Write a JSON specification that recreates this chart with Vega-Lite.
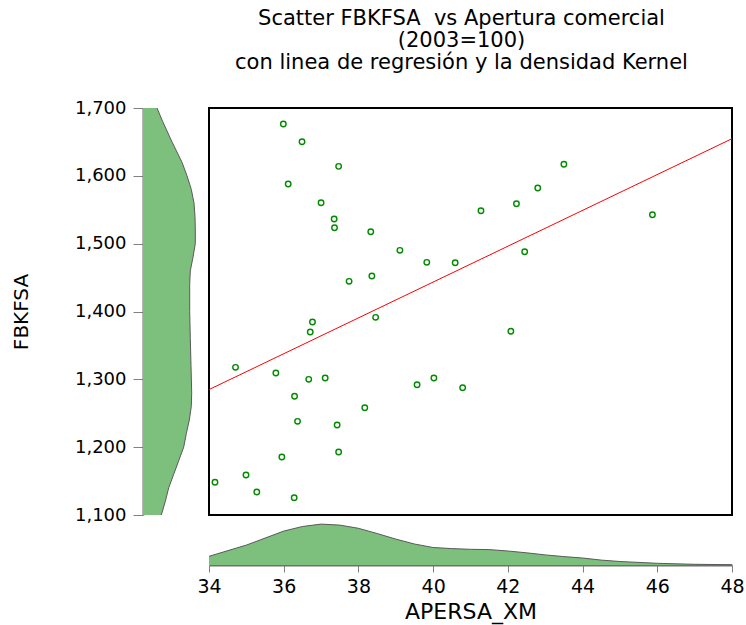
{
  "$schema": "https://vega.github.io/schema/vega-lite/v6.json",
  "padding": {"left": 11, "top": 7, "right": 0, "bottom": 8},
  "config": {
    "font": "DejaVu Sans",
    "view": {"stroke": null},
    "axis": {"labelColor": "black", "titleColor": "black", "titleFontWeight": "normal", "grid": false}
  },
  "datasets": {
    "points": [
      {"x": 35.99, "y": 1676.4}, {"x": 36.49, "y": 1650.3}, {"x": 37.47, "y": 1614}, {"x": 36.12, "y": 1588},
      {"x": 37.0, "y": 1560.4}, {"x": 37.35, "y": 1536.4}, {"x": 37.36, "y": 1523.5}, {"x": 38.33, "y": 1517.6},
      {"x": 39.11, "y": 1490.2}, {"x": 39.83, "y": 1472.5}, {"x": 40.59, "y": 1471.9}, {"x": 37.75, "y": 1444.5},
      {"x": 38.36, "y": 1452.3}, {"x": 36.77, "y": 1384.5}, {"x": 36.71, "y": 1369.8}, {"x": 38.46, "y": 1391.4},
      {"x": 34.71, "y": 1317.7}, {"x": 35.79, "y": 1309.3}, {"x": 36.67, "y": 1300}, {"x": 37.11, "y": 1302},
      {"x": 39.57, "y": 1292.1}, {"x": 40.02, "y": 1302}, {"x": 40.79, "y": 1287.6}, {"x": 36.29, "y": 1275},
      {"x": 38.17, "y": 1258.2}, {"x": 36.37, "y": 1238.1}, {"x": 37.43, "y": 1232.7}, {"x": 37.47, "y": 1192.8},
      {"x": 35.95, "y": 1185.5}, {"x": 34.99, "y": 1159}, {"x": 34.16, "y": 1148.2}, {"x": 35.28, "y": 1133.9},
      {"x": 36.28, "y": 1125.5}, {"x": 43.5, "y": 1617}, {"x": 42.8, "y": 1582.1}, {"x": 42.23, "y": 1558.9},
      {"x": 41.28, "y": 1548.6}, {"x": 45.87, "y": 1542.7}, {"x": 42.45, "y": 1488.1}, {"x": 42.08, "y": 1370.8}
    ],
    "ydens": [
      {"y": 1700, "d": 14}, {"y": 1680, "d": 19.7}, {"y": 1650, "d": 29}, {"y": 1620, "d": 39},
      {"y": 1600, "d": 44}, {"y": 1580, "d": 48.3}, {"y": 1560, "d": 51}, {"y": 1540, "d": 52},
      {"y": 1520, "d": 52.3}, {"y": 1500, "d": 52.3}, {"y": 1480, "d": 50}, {"y": 1460, "d": 47.3},
      {"y": 1440, "d": 46.7}, {"y": 1400, "d": 46.7}, {"y": 1360, "d": 47.3}, {"y": 1320, "d": 48},
      {"y": 1280, "d": 48.7}, {"y": 1260, "d": 48.3}, {"y": 1240, "d": 46.3}, {"y": 1220, "d": 43.3},
      {"y": 1200, "d": 40.7}, {"y": 1180, "d": 35.7}, {"y": 1160, "d": 30.7}, {"y": 1140, "d": 25.7},
      {"y": 1120, "d": 22.3}, {"y": 1100, "d": 18.3}
    ],
    "xdens": [
      {"x": 34, "d": 8.7}, {"x": 35, "d": 19.9}, {"x": 35.5, "d": 26.9}, {"x": 36, "d": 33.9},
      {"x": 36.5, "d": 38.5}, {"x": 37, "d": 40.9}, {"x": 37.5, "d": 39.9}, {"x": 38, "d": 36.7},
      {"x": 38.5, "d": 31.5}, {"x": 39, "d": 25.9}, {"x": 39.5, "d": 21}, {"x": 40, "d": 17.5},
      {"x": 40.5, "d": 16.4}, {"x": 41, "d": 15.7}, {"x": 41.5, "d": 15.4}, {"x": 42, "d": 14},
      {"x": 42.5, "d": 12.2}, {"x": 43, "d": 10.1}, {"x": 43.5, "d": 8.4}, {"x": 44, "d": 7},
      {"x": 44.5, "d": 4.9}, {"x": 45, "d": 3.5}, {"x": 46, "d": 1.7}, {"x": 47, "d": 0.7}, {"x": 48, "d": 0.3}
    ]
  },
  "columns": 2,
  "bounds": "flush",
  "spacing": {"row": 8, "column": 10},
  "concat": [
    {
      "width": 56,
      "height": 407,
      "data": {"name": "ydens"},
      "encoding": {
        "y": {
          "field": "y", "type": "quantitative",
          "scale": {"domain": [1100, 1700], "nice": false, "zero": false},
          "axis": {
            "values": [1100, 1200, 1300, 1400, 1500, 1600, 1700],
            "format": ",.0f",
            "title": "FBKFSA",
            "titleFontSize": 20,
            "titlePadding": 43,
            "labelFontSize": 18,
            "labelPadding": 7,
            "labelFlush": false,
            "labelOverlap": false,
            "tickSize": 10,
            "tickColor": "#808080",
            "domainColor": "#707070",
            "domainWidth": 2
          }
        },
        "x": {
          "field": "d", "type": "quantitative",
          "scale": {"domain": [0, 56], "nice": false},
          "axis": null
        }
      },
      "layer": [
        {
          "mark": {"type": "area", "orient": "horizontal", "color": "#7dbf7d", "opacity": 1},
          "encoding": {"x2": {"datum": 0}}
        },
        {
          "mark": {"type": "line", "color": "#5a5a5a", "strokeWidth": 1},
          "encoding": {"order": {"field": "y", "type": "quantitative"}}
        }
      ]
    },
    {
      "width": 523,
      "height": 407,
      "view": {"stroke": "black", "strokeWidth": 2},
      "title": {
        "text": ["Scatter FBKFSA\u00a0 vs Apertura comercial", "(2003=100)", "con linea de regresión y la densidad Kernel"],
        "fontSize": 21,
        "fontWeight": "normal",
        "lineHeight": 22,
        "anchor": "middle",
        "dx": -9,
        "offset": 35,
        "color": "black"
      },
      "data": {"name": "points"},
      "encoding": {
        "x": {"field": "x", "type": "quantitative", "scale": {"domain": [34, 48], "nice": false, "zero": false}, "axis": null},
        "y": {"field": "y", "type": "quantitative", "scale": {"domain": [1100, 1700], "nice": false, "zero": false}, "axis": null}
      },
      "layer": [
        {
          "mark": {"type": "point", "shape": "circle", "filled": false, "size": 30, "strokeWidth": 1.4, "color": "#008a00", "opacity": 1}
        },
        {
          "transform": [{"regression": "y", "on": "x", "extent": [34, 48]}],
          "mark": {"type": "line", "color": "#ff0000", "strokeWidth": 1}
        }
      ]
    },
    {
      "width": 56,
      "height": 42,
      "data": {"values": []},
      "mark": "point",
      "encoding": {}
    },
    {
      "width": 523,
      "height": 42,
      "data": {"name": "xdens"},
      "mark": {"type": "area", "color": "#7dbf7d", "opacity": 1, "line": {"color": "#5a5a5a", "strokeWidth": 1}},
      "encoding": {
        "x": {
          "field": "x", "type": "quantitative",
          "scale": {"domain": [34, 48], "nice": false, "zero": false},
          "axis": {
            "values": [34, 36, 38, 40, 42, 44, 46, 48],
            "title": "APERSA_XM",
            "titleFontSize": 22,
            "titlePadding": 5,
            "labelFontSize": 19,
            "labelPadding": 5,
            "labelFlush": false,
            "tickSize": 7,
            "tickColor": "#808080",
            "domainColor": "#707070",
            "domainWidth": 2
          }
        },
        "y": {
          "field": "d", "type": "quantitative",
          "scale": {"domain": [0, 42], "nice": false},
          "axis": null
        }
      }
    }
  ]
}
